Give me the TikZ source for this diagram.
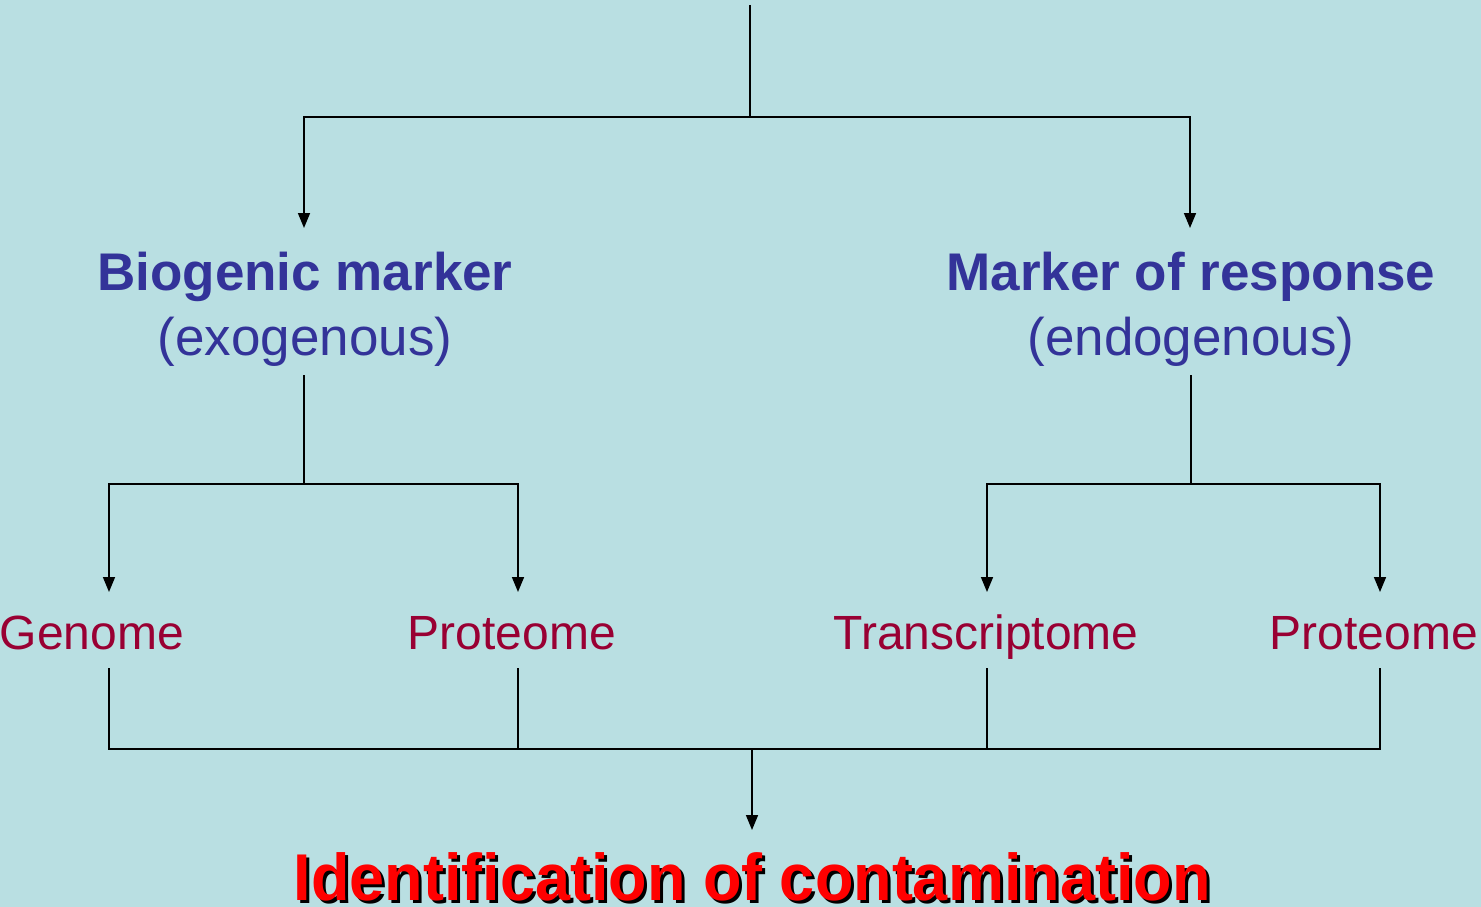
\documentclass[tikz,border=0pt]{standalone}
\usepackage{fontspec}
\setmainfont{Liberation Sans}
\usetikzlibrary{arrows.meta}
\definecolor{bg}{HTML}{B9DFE2}
\definecolor{navy}{HTML}{333399}
\definecolor{wine}{HTML}{990033}
\definecolor{hot}{HTML}{FF0000}
\begin{document}
\begin{tikzpicture}[x=1pt,y=-1pt,
  conn/.style={line width=1.6pt,black},
  arr/.style={conn,-{Triangle[length=15pt,width=12pt]}},
  head/.style={anchor=base,inner sep=0pt,text=navy,font=\fontsize{53}{60}\selectfont\bfseries},
  sub/.style={anchor=base,inner sep=0pt,text=navy,font=\fontsize{53}{60}\selectfont},
  leaf/.style={anchor=base,inner sep=0pt,text=wine,font=\fontsize{48}{54}\selectfont},
  ttl/.style={anchor=base,inner sep=0pt,font=\fontsize{63}{70}\selectfont\bfseries,yscale=1.05}]
\fill[bg] (0,0) rectangle (1481,907);
\useasboundingbox (0,0) rectangle (1481,907);
% texts
\node[head] (bio) at (305,290) {Biogenic marker};
\node[sub] (exo) at (305,355) {(exogenous)};
\node[head] (resp) at (1191,290) {Marker of response};
\node[sub] (endo) at (1191,355) {(endogenous)};
\node[leaf] (gen) at (92,649) {Genome};
\node[leaf] (prot1) at (512,649) {Proteome};
\node[leaf] (trans) at (986,649) {Transcriptome};
\node[leaf] (prot2) at (1374,649) {Proteome};
\node[ttl,text=black] (ttlsh) at (755,903) {Identification of contamination};
\node[ttl,text=hot] (ttl) at (752,900) {Identification of contamination};
% coordinates
\coordinate (top) at (750,5);
\coordinate (j1) at (750,117);
\coordinate (aBio) at (304,228);
\coordinate (aResp) at (1190,228);
\coordinate (exoB) at (304,375);
\coordinate (j2) at (304,484);
\coordinate (endoB) at (1191,375);
\coordinate (j3) at (1191,484);
\coordinate (aGen) at (109,592);
\coordinate (aProt1) at (518,592);
\coordinate (aTrans) at (987,592);
\coordinate (aProt2) at (1380,592);
\coordinate (bGen) at (109,668);
\coordinate (bProt1) at (518,668);
\coordinate (bTrans) at (987,668);
\coordinate (bProt2) at (1380,668);
\coordinate (j4) at (752,749);
\coordinate (aTtl) at (752,830);
% connectors
\draw[conn] (top) -- (j1);
\draw[arr] (j1) -| (aBio);
\draw[arr] (j1) -| (aResp);
\draw[conn] (exoB) -- (j2);
\draw[arr] (j2) -| (aGen);
\draw[arr] (j2) -| (aProt1);
\draw[conn] (endoB) -- (j3);
\draw[arr] (j3) -| (aTrans);
\draw[arr] (j3) -| (aProt2);
\draw[conn] (bGen) |- (j4);
\draw[conn] (bProt1) |- (j4);
\draw[conn] (bTrans) |- (j4);
\draw[conn] (bProt2) |- (j4);
\draw[arr] (j4) -- (aTtl);
\end{tikzpicture}
\end{document}
